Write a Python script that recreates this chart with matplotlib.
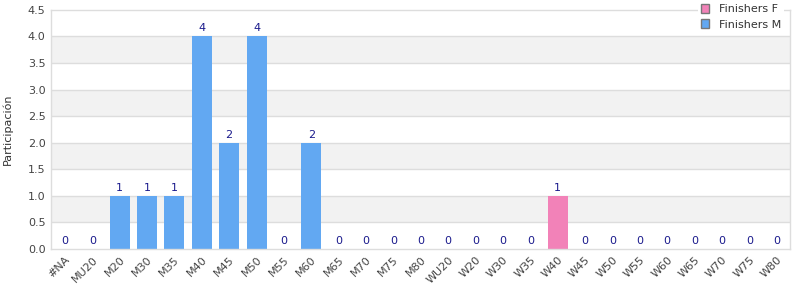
import matplotlib
matplotlib.use("Agg")
import matplotlib.pyplot as plt
import numpy as np
from matplotlib.patches import Patch

categories = ["#NA", "MU20", "M20", "M30", "M35", "M40", "M45", "M50", "M55", "M60",
              "M65", "M70", "M75", "M80", "WU20", "W20", "W30", "W35", "W40", "W45",
              "W50", "W55", "W60", "W65", "W70", "W75", "W80"]
finishers_m = [0, 0, 1, 1, 1, 4, 2, 4, 0, 2, 0, 0, 0, 0, 0, 0, 0, 0, 0, 0, 0, 0, 0, 0, 0, 0, 0]
finishers_f = [0, 0, 0, 0, 0, 0, 0, 0, 0, 0, 0, 0, 0, 0, 0, 0, 0, 0, 1, 0, 0, 0, 0, 0, 0, 0, 0]

BLUE = "#62a8f2"
PINK = "#f282b8"
GRID = "#dddddd"

fig = plt.figure(figsize=(8, 3), dpi=100)
ax = fig.add_axes([0.064, 0.17, 0.924, 0.797])

x = np.arange(len(categories))
m = np.array(finishers_m)
f = np.array(finishers_f)

# alternating bands
ymax = 4.5
for i, y0 in enumerate(np.arange(0, ymax, 0.5)):
    if i % 2 == 1:
        ax.axhspan(y0, y0 + 0.5, color="#f2f2f2", zorder=0, lw=0)
for y in np.arange(0.5, ymax, 0.5):
    ax.axhline(y, color=GRID, lw=1, zorder=0.5)

ax.bar(x, m, width=0.73, color=BLUE, zorder=2)
ax.bar(x, f, bottom=m, width=0.73, color=PINK, zorder=2)

tot = m + f
for xi, t in zip(x, tot):
    ax.text(xi, t + 0.06, str(t), ha="center", va="bottom", fontsize=8, color="#1a1a8c")

ax.set_xlim(-0.5, len(categories) - 0.5)
ax.set_ylim(0, ymax)
ax.set_yticks(np.arange(0, 4.51, 0.5))
ax.set_yticklabels([f"{v:.1f}" for v in np.arange(0, 4.51, 0.5)])
ax.set_xticks(x)
ax.set_xticklabels(categories, rotation=45, ha="right", rotation_mode="anchor")
ax.tick_params(axis="both", length=0, labelsize=8, labelcolor="#444444", pad=4)
ax.set_ylabel("Participación", fontsize=8, color="#333333", labelpad=11)
for s in ax.spines.values():
    s.set_color(GRID)
    s.set_linewidth(1)

handles = [Patch(facecolor=PINK, edgecolor="#777777", label="Finishers F"),
           Patch(facecolor=BLUE, edgecolor="#777777", label="Finishers M")]
leg = ax.legend(handles=handles, loc="upper right", bbox_to_anchor=(0.992, 1.035),
                fontsize=8, frameon=True, framealpha=1, edgecolor="none",
                handlelength=0.8, handleheight=0.8, borderpad=0.25, labelspacing=0.45,
                handletextpad=0.9, borderaxespad=0)
leg.set_zorder(5)
for t in leg.get_texts():
    t.set_color("#333333")

fig.savefig("out.png", dpi=100, facecolor="white")
